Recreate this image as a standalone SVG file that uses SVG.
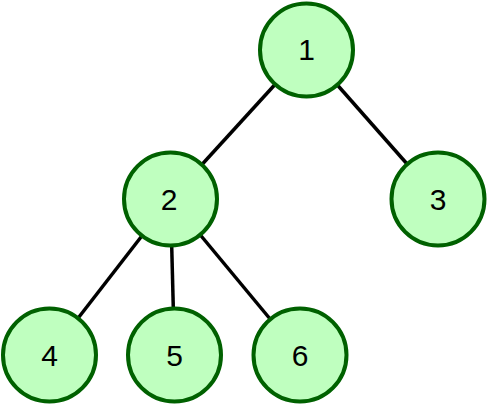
<svg xmlns="http://www.w3.org/2000/svg" width="488" height="405" viewBox="0 0 488 405">
<style>
.n circle{fill:#bfffbf;stroke:#006100;stroke-width:4}
.n text{font-family:"Liberation Sans",Arial,sans-serif;font-size:30px;fill:#000;text-anchor:middle}
.e line{stroke:#000;stroke-width:3.5}
</style>
<rect width="488" height="405" fill="#fff"/>
<g id="edges" class="e">
<line x1="306.5" y1="50" x2="170.5" y2="199"/>
<line x1="306.5" y1="50" x2="438" y2="199"/>
<line x1="170.5" y1="199" x2="49.5" y2="355"/>
<line x1="170.5" y1="199" x2="174.5" y2="355"/>
<line x1="170.5" y1="199" x2="300" y2="355"/>
</g>
<g id="node1" class="n"><circle cx="306.5" cy="50" r="46.5"/><text x="306.5" y="60">1</text></g>
<g id="node2" class="n"><circle cx="170.5" cy="199" r="46.5"/><text x="169" y="209.5">2</text></g>
<g id="node3" class="n"><circle cx="438" cy="199" r="46.5"/><text x="438" y="209.5">3</text></g>
<g id="node4" class="n"><circle cx="49.5" cy="355" r="46.5"/><text x="49.5" y="365.5">4</text></g>
<g id="node5" class="n"><circle cx="174.5" cy="355" r="46.5"/><text x="174.5" y="365.5">5</text></g>
<g id="node6" class="n"><circle cx="300" cy="355" r="46.5"/><text x="300" y="365.5">6</text></g>
</svg>
